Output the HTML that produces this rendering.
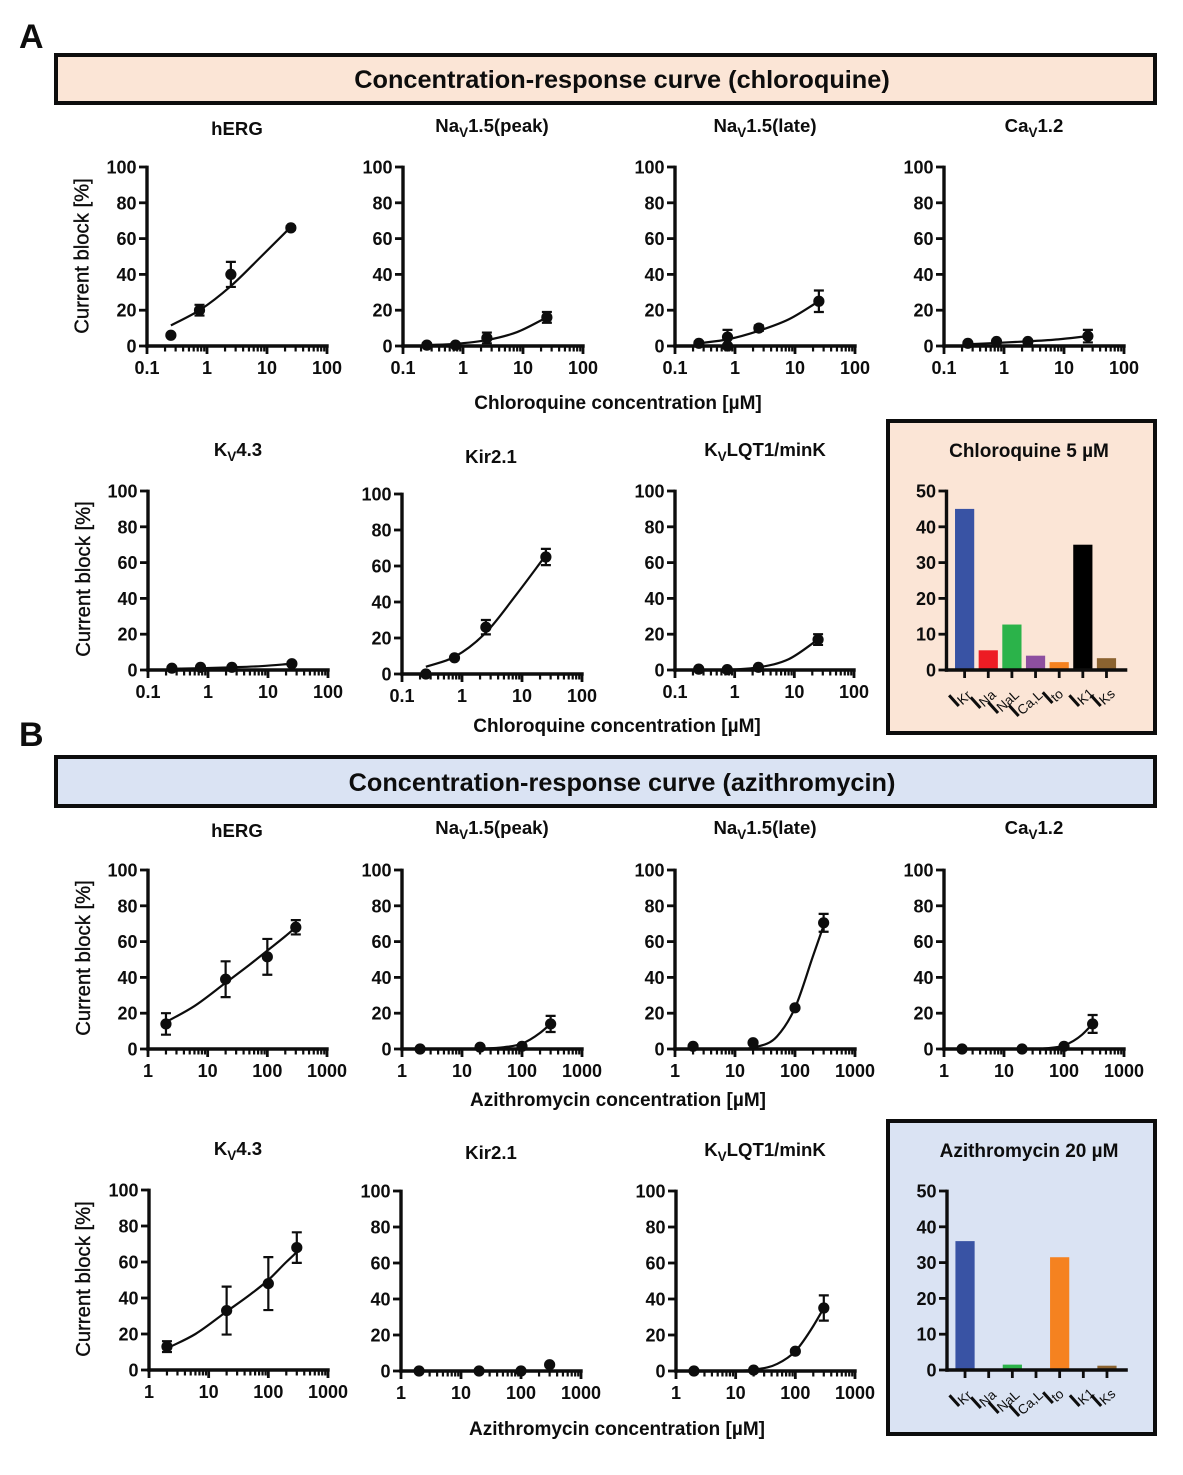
<!DOCTYPE html>
<html lang="en">
<head>
<meta charset="utf-8">
<title>Concentration-response curves</title>
<style>
html,body{margin:0;padding:0;background:#fff}
svg{display:block}
text{font-family:"Liberation Sans",sans-serif;fill:#0d0d0d}
.t{font-weight:bold;font-size:18.6px;text-anchor:middle}
.s{font-size:13.5px}
.ax{font-weight:bold;font-size:19px;text-anchor:middle}
.bt{font-weight:bold;font-size:19px;text-anchor:middle}
.yt{font-size:20.3px;text-anchor:middle;stroke:#0d0d0d;stroke-width:.35px}
.hd{font-weight:bold;font-size:25.3px;text-anchor:middle}
.lt{font-weight:bold;font-size:34px}
.tk{font-weight:bold;font-size:18px}
</style>
</head>
<body>
<svg id="fig" xmlns="http://www.w3.org/2000/svg" width="1183" height="1475" viewBox="0 0 1183 1475">
<rect width="1183" height="1475" fill="#fff"/>
<text class="lt" x="19" y="48">A</text>
<rect x="56" y="55" width="1099" height="48" fill="#fbe5d6" stroke="#0d0d0d" stroke-width="4"/>
<text class="hd" x="622" y="88">Concentration-response curve (chloroquine)</text>

<text class="t" x="237" y="135">hERG</text>
<text class="t" x="492" y="132">Na<tspan class="s" dy="5">V</tspan><tspan dy="-5">1.5(peak)</tspan></text>
<text class="t" x="765" y="132">Na<tspan class="s" dy="5">V</tspan><tspan dy="-5">1.5(late)</tspan></text>
<text class="t" x="1034" y="132">Ca<tspan class="s" dy="5">V</tspan><tspan dy="-5">1.2</tspan></text>
<text class="ax" x="618" y="409">Chloroquine concentration [µM]</text>
<text class="yt" transform="translate(88.5,256) rotate(-90)">Current block [%]</text>

<text class="t" x="238" y="456">K<tspan class="s" dy="5">V</tspan><tspan dy="-5">4.3</tspan></text>
<text class="t" x="491" y="463">Kir2.1</text>
<text class="t" x="765" y="456">K<tspan class="s" dy="5">V</tspan><tspan dy="-5">LQT1/minK</tspan></text>
<text class="ax" x="617" y="732">Chloroquine concentration [µM]</text>
<text class="yt" transform="translate(90,579) rotate(-90)">Current block [%]</text>

<rect x="888" y="421" width="267" height="312" fill="#fbe5d6" stroke="#0d0d0d" stroke-width="4"/>
<text class="bt" x="1029" y="457">Chloroquine 5 µM</text>

<text class="lt" x="19" y="746">B</text>
<rect x="56" y="757" width="1099" height="49" fill="#dae3f3" stroke="#0d0d0d" stroke-width="4"/>
<text class="hd" x="622" y="791">Concentration-response curve (azithromycin)</text>

<text class="t" x="237" y="837">hERG</text>
<text class="t" x="492" y="834">Na<tspan class="s" dy="5">V</tspan><tspan dy="-5">1.5(peak)</tspan></text>
<text class="t" x="765" y="834">Na<tspan class="s" dy="5">V</tspan><tspan dy="-5">1.5(late)</tspan></text>
<text class="t" x="1034" y="834">Ca<tspan class="s" dy="5">V</tspan><tspan dy="-5">1.2</tspan></text>
<text class="ax" x="618" y="1106">Azithromycin concentration [µM]</text>
<text class="yt" transform="translate(90,958) rotate(-90)">Current block [%]</text>

<text class="t" x="238" y="1155">K<tspan class="s" dy="5">V</tspan><tspan dy="-5">4.3</tspan></text>
<text class="t" x="491" y="1159">Kir2.1</text>
<text class="t" x="765" y="1156">K<tspan class="s" dy="5">V</tspan><tspan dy="-5">LQT1/minK</tspan></text>
<text class="ax" x="617" y="1435">Azithromycin concentration [µM]</text>
<text class="yt" transform="translate(90,1279) rotate(-90)">Current block [%]</text>

<rect x="888" y="1121" width="267" height="313" fill="#dae3f3" stroke="#0d0d0d" stroke-width="4"/>
<text class="bt" x="1029" y="1157">Azithromycin 20 µM</text>
</svg>
<script>
// shared axis values
const yTickValues = [0, 20, 40, 60, 80, 100];
const barYTickValues = [0, 10, 20, 30, 40, 50];
const chloroTicks = [0.1, 1, 10, 100];
const aziTicks = [1, 10, 100, 1000];
const chloroConc = [0.25, 0.75, 2.5, 25];
const aLateConc = [0.25, 0.75, 0.75, 2.5, 25];
const aziConc = [2, 20, 100, 300];
const chloroCurveX = [0.25, 0.75, 2.5, 8, 25];
const aziCurveX = [2, 6, 20, 50, 100, 200, 300];

// chloroquine: means, errors, fitted curve readings
const aHergMean = [6, 20, 40, 66];
const aHergErr = [0, 3, 7, 1];
const aHergCurve = [11.5, 20, 33.5, 50, 66.5];
const aPeakMean = [0.5, 0.5, 4.5, 16];
const aPeakErr = [1, 1, 3, 3];
const aPeakCurve = [0.5, 1.2, 3.3, 7.8, 16];
const aLateMean = [1.5, 5, 0, 10, 25];
const aLateErr = [1, 4, 1, 1.5, 6];
const aLateCurve = [1.5, 3.7, 8.5, 15, 25];
const aCavMean = [1.5, 2.5, 2.5, 5.5];
const aCavErr = [0.7, 1, 1, 3.5];
const aCavCurve = [1, 1.7, 2.6, 3.7, 5.5];
const aKv43Mean = [1, 1.5, 1.5, 3.5];
const aKv43Err = [0.5, 0.5, 0.5, 0.7];
const aKv43Curve = [0.7, 1, 1.5, 2.2, 3.5];
const aKirMean = [0, 9, 26, 65];
const aKirErr = [1, 1, 4, 4.5];
const aKirCurve = [4, 9.5, 23, 44, 66];
const aLqtMean = [0.5, 0.2, 1.5, 17];
const aLqtErr = [0.5, 0.5, 0.7, 3];
const aLqtCurve = [0, 0.2, 1.5, 6, 17];

// azithromycin: means, errors, fitted curve readings
const bHergMean = [14, 39, 51.5, 68];
const bHergErr = [6, 10, 10, 4];
const bHergCurve = [15, 24, 37, 47, 55, 63, 68];
const bPeakMean = [0, 1, 1.5, 14];
const bPeakErr = [0.5, 0.5, 1, 4.5];
const bPeakCurve = [0, 0, 0.2, 1, 3, 9, 14];
const bLateMean = [1.5, 3.5, 23, 70.5];
const bLateErr = [0.7, 0.7, 0.7, 5];
const bLateCurve = [0, 0.1, 0.8, 7, 23, 52, 69];
const bCavMean = [0, 0, 1.5, 14];
const bCavErr = [0.3, 0.3, 0.7, 5];
const bCavCurve = [0, 0, 0, 0.4, 2, 8, 14];
const bKv43Mean = [13, 33, 48, 68];
const bKv43Err = [3, 13.3, 14.7, 8.5];
const bKv43Curve = [12, 20, 32.5, 42, 50, 60, 65.5];
const bKirMean = [0, 0, 0, 3.5];
const bKirErr = [0.3, 0.3, 0.3, 0.5];
const bKirCurve = [0, 0, 0, 0, 0, 0, 0];
const bLqtMean = [0, 0.5, 11, 35];
const bLqtErr = [0.3, 0.3, 0.7, 7];
const bLqtCurve = [0, 0.1, 0.7, 4, 11, 25, 35];

// bar charts
const barCategories = ['Kr', 'Na', 'NaL', 'Ca,L', 'to', 'K1', 'Ks'];
const barColors = ['#3953a4', '#ed1c24', '#2bb34a', '#8d4fa0', '#f58220', '#000000', '#8b6330'];
const barChloroValues = [45, 5.5, 12.7, 4, 2.2, 35, 3.3];
const barAziValues = [36, 0, 1.5, 0, 31.5, 0, 1.2];

const INK = '#0d0d0d';
const NS = 'http://www.w3.org/2000/svg';
const fig = document.getElementById('fig');
function mk(tag, attrs, parent) {
  const n = document.createElementNS(NS, tag);
  for (const k in attrs) n.setAttribute(k, attrs[k]);
  parent.appendChild(n);
  return n;
}
function linePart(parent, x1, y1, x2, y2, w) {
  return mk('line', { x1: x1, y1: y1, x2: x2, y2: y2, stroke: INK, 'stroke-width': w }, parent);
}
function tickLabel(parent, x, y, str, anchor) {
  const t = mk('text', { x: x, y: y, class: 'tk', 'text-anchor': anchor }, parent);
  t.textContent = str;
  return t;
}
function smoothPath(pts) {
  const n = pts.length;
  const slopes = [];
  for (let i = 0; i < n - 1; i++) slopes.push((pts[i + 1][1] - pts[i][1]) / (pts[i + 1][0] - pts[i][0]));
  const tang = pts.map((pt, i) => {
    if (i === 0) return slopes[0];
    if (i === n - 1) return slopes[n - 2];
    const h0 = pts[i][0] - pts[i - 1][0];
    const h1 = pts[i + 1][0] - pts[i][0];
    return (h0 * slopes[i] + h1 * slopes[i - 1]) / (h0 + h1);
  });
  let d = 'M' + pts[0][0] + ' ' + pts[0][1];
  for (let i = 0; i < n - 1; i++) {
    const dx = (pts[i + 1][0] - pts[i][0]) / 3;
    d += ' C' + (pts[i][0] + dx) + ' ' + (pts[i][1] + tang[i] * dx) + ' ' + (pts[i + 1][0] - dx) + ' ' + (pts[i + 1][1] - tang[i + 1] * dx) + ' ' + pts[i + 1][0] + ' ' + pts[i + 1][1];
  }
  return d;
}
function drawPanel(p) {
  const g = mk('g', {}, fig);
  
  
  const d0 = Math.log10(p.ticks[0]);
  const d1 = Math.log10(p.ticks[p.ticks.length - 1]);
  const sx = v => p.x0 + (Math.log10(v) - d0) / (d1 - d0) * (p.x1 - p.x0);
  const sy = v => p.y0 + (v / 100) * (p.y1 - p.y0);

  const yAxis = linePart(g, p.x0, p.y1 - 1.4, p.x0, p.y0 + 1.7, 3.4);
  
  
  const xAxis = linePart(g, p.x0 - 1.7, p.y0, p.x1 + 1.7, p.y0, 3.4);
  
  

  yTickValues.forEach(v => {
    const tk = linePart(g, p.x0 - 8, sy(v), p.x0, sy(v), 2.8);
    
    
    const lb = tickLabel(g, p.x0 - 10.5, sy(v) + 6.5, String(v), 'end');
    
    
  });
  p.ticks.forEach((v, i) => {
    const tk = linePart(g, sx(v), p.y0, sx(v), p.y0 + 8, 2.8);
    
    
    const lb = tickLabel(g, sx(v), p.y0 + 28, String(v), 'middle');
    
    
    if (i < p.ticks.length - 1) {
      for (let m = 2; m < 10; m++) {
        const mt = linePart(g, sx(v * m), p.y0, sx(v * m), p.y0 + 5.5, 2.2);
        
        
      }
    }
  });

  // fitted curve through values
  const pts = p.curveX.map((x, i) => [sx(x), sy(p.curve[i])]);
  const curve = mk('path', { d: smoothPath(pts), fill: 'none', stroke: INK, 'stroke-width': 2.2 }, g);
  
  

  p.conc.forEach((c, i) => {
    const cx = sx(c);
    const e = p.err[i];
    if (e > 0) {
      const eb = mk('path', {
        d: 'M' + (cx - 5) + ' ' + sy(p.mean[i] + e) + 'H' + (cx + 5) + 'M' + cx + ' ' + sy(p.mean[i] + e) + 'V' + sy(p.mean[i] - e) + 'M' + (cx - 5) + ' ' + sy(p.mean[i] - e) + 'H' + (cx + 5),
        fill: 'none', stroke: INK, 'stroke-width': 2.2
      }, g);
      
      
    }
    const dot = mk('circle', { cx: cx, cy: sy(p.mean[i]), r: 5.6, fill: INK }, g);
    
    
  });
}
function drawBars(b) {
  const g = mk('g', {}, fig);
  
  
  const sy = v => b.y0 + (v / 50) * (b.y1 - b.y0);
  const band = (b.x1 - b.xStart) / barCategories.length;
  const cx = i => b.xStart + band * (i + 0.5);
  const nudgeX = [-7, -9, -15, -18, -8, -5, -7];
  const nudgeY = [38, 40, 45, 48, 35, 38, 38];
  b.values.forEach((v, i) => {
    if (v > 0) {
      const r = mk('rect', { x: cx(i) - 9.6, y: sy(v), width: 19.2, height: b.y0 - sy(v) - 1.5, fill: barColors[i] }, g);
      
      
    }
  });
  const yAxis = linePart(g, b.x0, b.y1 - 1.4, b.x0, b.y0 + 1.7, 3.4);
  
  
  const xAxis = linePart(g, b.x0 - 1.7, b.y0, b.x1 + 9, b.y0, 3.4);
  
  
  barYTickValues.forEach(v => {
    const tk = linePart(g, b.x0 - 8, sy(v), b.x0, sy(v), 2.8);
    
    
    const lb = tickLabel(g, b.x0 - 10.5, sy(v) + 6.5, String(v), 'end');
    
    
  });
  barCategories.forEach((c, i) => {
    const tk = linePart(g, cx(i), b.y0, cx(i), b.y0 + 8, 2.8);
    
    
    const t = mk('text', { transform: 'translate(' + (cx(i) + nudgeX[i] - 1) + ',' + (b.y0 + nudgeY[i]) + ') rotate(-42)' }, g);
    
    
    const big = mk('tspan', { 'font-weight': 'bold', 'font-size': '21px' }, t);
    big.textContent = 'I';
    const sub = mk('tspan', { 'font-size': '13.5px', dy: '2' }, t);
    sub.textContent = c;
  });
}

drawPanel({ id: 'a-herg', x0: 147, x1: 327, y0: 346, y1: 167, ticks: chloroTicks, conc: chloroConc, mean: aHergMean, err: aHergErr, curveX: chloroCurveX, curve: aHergCurve });
drawPanel({ id: 'a-nav-peak', x0: 403, x1: 583, y0: 346, y1: 167, ticks: chloroTicks, conc: chloroConc, mean: aPeakMean, err: aPeakErr, curveX: chloroCurveX, curve: aPeakCurve });
drawPanel({ id: 'a-nav-late', x0: 675, x1: 855, y0: 346, y1: 167, ticks: chloroTicks, conc: aLateConc, mean: aLateMean, err: aLateErr, curveX: chloroCurveX, curve: aLateCurve });
drawPanel({ id: 'a-cav', x0: 944, x1: 1124, y0: 346, y1: 167, ticks: chloroTicks, conc: chloroConc, mean: aCavMean, err: aCavErr, curveX: chloroCurveX, curve: aCavCurve });
drawPanel({ id: 'a-kv43', x0: 148, x1: 328, y0: 670, y1: 491, ticks: chloroTicks, conc: chloroConc, mean: aKv43Mean, err: aKv43Err, curveX: chloroCurveX, curve: aKv43Curve });
drawPanel({ id: 'a-kir', x0: 402, x1: 582, y0: 674, y1: 494, ticks: chloroTicks, conc: chloroConc, mean: aKirMean, err: aKirErr, curveX: chloroCurveX, curve: aKirCurve });
drawPanel({ id: 'a-kvlqt', x0: 675, x1: 854, y0: 670, y1: 491, ticks: chloroTicks, conc: chloroConc, mean: aLqtMean, err: aLqtErr, curveX: chloroCurveX, curve: aLqtCurve });
drawBars({ id: 'chloroquine', x0: 946.5, xStart: 952.8, x1: 1118.3, y0: 670, y1: 491, values: barChloroValues });

drawPanel({ id: 'b-herg', x0: 148, x1: 327, y0: 1049, y1: 870, ticks: aziTicks, conc: aziConc, mean: bHergMean, err: bHergErr, curveX: aziCurveX, curve: bHergCurve });
drawPanel({ id: 'b-nav-peak', x0: 402, x1: 582, y0: 1049, y1: 870, ticks: aziTicks, conc: aziConc, mean: bPeakMean, err: bPeakErr, curveX: aziCurveX, curve: bPeakCurve });
drawPanel({ id: 'b-nav-late', x0: 675, x1: 855, y0: 1049, y1: 870, ticks: aziTicks, conc: aziConc, mean: bLateMean, err: bLateErr, curveX: aziCurveX, curve: bLateCurve });
drawPanel({ id: 'b-cav', x0: 944, x1: 1124, y0: 1049, y1: 870, ticks: aziTicks, conc: aziConc, mean: bCavMean, err: bCavErr, curveX: aziCurveX, curve: bCavCurve });
drawPanel({ id: 'b-kv43', x0: 149, x1: 328, y0: 1370, y1: 1190, ticks: aziTicks, conc: aziConc, mean: bKv43Mean, err: bKv43Err, curveX: aziCurveX, curve: bKv43Curve });
drawPanel({ id: 'b-kir', x0: 401, x1: 581, y0: 1371, y1: 1191, ticks: aziTicks, conc: aziConc, mean: bKirMean, err: bKirErr, curveX: aziCurveX, curve: bKirCurve });
drawPanel({ id: 'b-kvlqt', x0: 676, x1: 855, y0: 1371, y1: 1191, ticks: aziTicks, conc: aziConc, mean: bLqtMean, err: bLqtErr, curveX: aziCurveX, curve: bLqtCurve });
drawBars({ id: 'azithromycin', x0: 947, xStart: 953.2, x1: 1118.8, y0: 1370, y1: 1191, values: barAziValues });
</script>
</body>
</html>
